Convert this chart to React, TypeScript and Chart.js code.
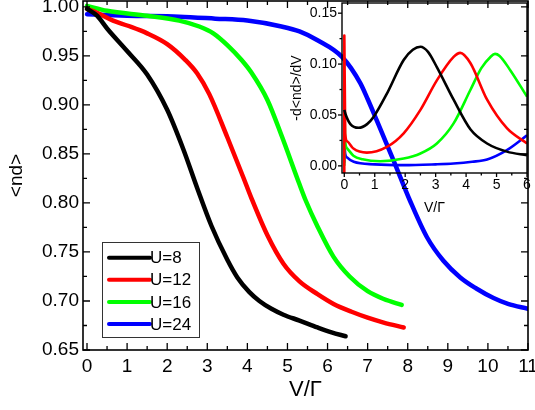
import { useEffect, useRef } from "react";
import { Chart, registerables } from "chart.js";

Chart.register(...registerables);

const FONT = '"Liberation Sans", Arial, Helvetica, sans-serif';

// ---------- main panel data: <nd> vs V/Γ ----------
const seriesLabels = ["U=8", "U=12", "U=16", "U=24"];
const seriesColors = ["#000000", "#ff0000", "#00ff00", "#0000ff"];

const vU8 = [0, 0.25, 0.5, 1.0, 1.5, 2.0, 2.4, 2.75, 3.1, 3.5, 3.75, 4.05, 4.3, 4.6, 4.9, 5.3, 5.75, 6.1, 6.45];
const ndU8 = [0.998, 0.991, 0.978, 0.955, 0.931, 0.895, 0.855, 0.815, 0.777, 0.742, 0.724, 0.709, 0.7, 0.692, 0.686, 0.68, 0.673, 0.668, 0.664];

const vU12 = [0, 0.25, 0.65, 1.0, 1.5, 2.0, 2.45, 2.75, 3.05, 3.5, 3.9, 4.1, 4.5, 4.9, 5.3, 5.75, 6.15, 6.6, 7.0, 7.4, 7.9];
const ndU12 = [0.998, 0.994, 0.986, 0.981, 0.973, 0.962, 0.946, 0.932, 0.911, 0.867, 0.826, 0.805, 0.767, 0.738, 0.72, 0.707, 0.697, 0.689, 0.683, 0.678, 0.673];

const vU16 = [0, 0.5, 1.5, 2.3, 2.8, 3.15, 3.5, 3.85, 4.1, 4.5, 4.85, 5.3, 5.45, 5.75, 6.15, 6.55, 7.0, 7.4, 7.85];
const ndU16 = [1.001, 0.996, 0.991, 0.986, 0.98, 0.973, 0.961, 0.946, 0.933, 0.905, 0.869, 0.819, 0.803, 0.776, 0.745, 0.725, 0.71, 0.702, 0.696];

const vU24 = [0, 1.0, 2.3, 3.2, 4.0, 4.85, 5.3, 5.75, 6.36, 6.82, 7.0, 7.23, 7.65, 8.06, 8.48, 8.89, 9.31, 9.7, 10.14, 10.5, 11.0];
const ndU24 = [0.9925, 0.991, 0.99, 0.988, 0.986, 0.98, 0.975, 0.966, 0.949, 0.922, 0.906, 0.884, 0.843, 0.802, 0.765, 0.741, 0.724, 0.713, 0.703, 0.697, 0.692];

// ---------- inset data: -d<nd>/dV vs V/Γ ----------
const iv8 = [0, 0.05, 0.2, 0.47, 0.75, 0.96, 1.4, 1.95, 2.25, 2.5, 2.75, 3.04, 3.59, 4.14, 4.69, 5.34, 6.0];
const id8 = [0.055, 0.05, 0.041, 0.0374, 0.041, 0.048, 0.071, 0.104, 0.114, 0.117, 0.112, 0.097, 0.065, 0.036, 0.022, 0.014, 0.0105];

const iv12 = [0, 0.001, 0.03, 0.1, 0.3, 0.74, 1.4, 1.95, 2.5, 3.04, 3.59, 3.81, 4.14, 4.69, 5.34, 6.0];
const id12 = [-0.01, 0.128, 0.032, 0.024, 0.017, 0.013, 0.0187, 0.032, 0.055, 0.084, 0.107, 0.111, 0.101, 0.065, 0.037, 0.022];

const iv16 = [0, 0.001, 0.03, 0.1, 0.3, 0.6, 1.18, 1.95, 2.5, 3.04, 3.59, 4.14, 4.5, 4.8, 4.95, 5.1, 5.45, 6.0];
const id16 = [0.0, 0.058, 0.024, 0.017, 0.01, 0.0065, 0.0046, 0.0072, 0.0122, 0.022, 0.0417, 0.0745, 0.096, 0.107, 0.11, 0.108, 0.094, 0.068];

const iv24 = [0, 0.001, 0.03, 0.1, 0.31, 1.0, 1.95, 3.0, 3.59, 4.2, 4.69, 5.34, 6.0];
const id24 = [0.003, 0.022, 0.012, 0.008, 0.004, 0.0015, 0.0007, 0.0015, 0.0023, 0.004, 0.0063, 0.0155, 0.03];

// ---------- tick labels ----------
const mainXTicks = [0, 1, 2, 3, 4, 5, 6, 7, 8, 9, 10, 11];
const mainYTicks = [0.65, 0.7, 0.75, 0.8, 0.85, 0.9, 0.95, 1.0];
const insetXTicks = [0, 1, 2, 3, 4, 5, 6];
const insetYTicks = [0.0, 0.05, 0.1, 0.15];

function pts(xs: number[], ys: number[]) {
  return xs.map((x, i) => ({ x, y: ys[i] }));
}
function midpoints(a: number[]) {
  const r: number[] = [];
  for (let i = 0; i < a.length - 1; i++) r.push((a[i] + a[i + 1]) / 2);
  return r;
}

function framePlugin(cfg: {
  inside: boolean;
  lw: number;
  major: number;
  minor: number;
  xMajor: number[];
  yMajor: number[];
  xMinor: number[];
  yMinor: number[];
}) {
  return {
    id: "frame",
    afterDatasetsDraw(chart: any) {
      const { ctx, chartArea: a, scales } = chart;
      const xs = scales.x;
      const ys = scales.y;
      ctx.save();
      ctx.strokeStyle = "#000";
      ctx.lineWidth = cfg.lw;
      ctx.lineCap = "butt";
      ctx.strokeRect(a.left, a.top, a.right - a.left, a.bottom - a.top);
      ctx.lineWidth = 1.3;
      const xt = (vals: number[], len: number) => {
        vals.forEach((v) => {
          const px = xs.getPixelForValue(v);
          if (px < a.left - 0.5 || px > a.right + 0.5) return;
          ctx.beginPath();
          if (cfg.inside) {
            ctx.moveTo(px, a.bottom);
            ctx.lineTo(px, a.bottom - len);
            ctx.moveTo(px, a.top);
            ctx.lineTo(px, a.top + len);
          } else {
            ctx.moveTo(px, a.bottom);
            ctx.lineTo(px, a.bottom + len);
          }
          ctx.stroke();
        });
      };
      const yt = (vals: number[], len: number) => {
        vals.forEach((v) => {
          const py = ys.getPixelForValue(v);
          if (py < a.top - 0.5 || py > a.bottom + 0.5) return;
          ctx.beginPath();
          if (cfg.inside) {
            ctx.moveTo(a.left, py);
            ctx.lineTo(a.left + len, py);
            ctx.moveTo(a.right, py);
            ctx.lineTo(a.right - len, py);
          } else {
            ctx.moveTo(a.left, py);
            ctx.lineTo(a.left - len, py);
          }
          ctx.stroke();
        });
      };
      xt(cfg.xMajor, cfg.major);
      xt(cfg.xMinor, cfg.minor);
      yt(cfg.yMajor, cfg.major);
      yt(cfg.yMinor, cfg.minor);
      ctx.restore();
    },
  };
}

const legendPlugin = {
  id: "boxLegend",
  afterDraw(chart: any) {
    const { ctx } = chart;
    const left = 102;
    const top = 242;
    const w = 97;
    const h = 95;
    ctx.save();
    ctx.fillStyle = "#ffffff";
    ctx.fillRect(left, top, w, h);
    ctx.strokeStyle = "#333";
    ctx.lineWidth = 1;
    ctx.strokeRect(left + 0.5, top + 0.5, w, h);
    chart.data.datasets.forEach((ds: any, i: number) => {
      const y = 257.7 + i * 22.1;
      ctx.strokeStyle = ds.borderColor;
      ctx.lineWidth = 4;
      ctx.lineCap = "round";
      ctx.beginPath();
      ctx.moveTo(109, y);
      ctx.lineTo(150, y);
      ctx.stroke();
      ctx.fillStyle = "#000";
      ctx.font = `17px ${FONT}`;
      ctx.textBaseline = "middle";
      ctx.textAlign = "left";
      ctx.fillText(ds.label, 150, y + 1);
    });
    ctx.restore();
  },
};

function fixedX(h: number) {
  return (s: any) => {
    s.height = h;
    s.paddingLeft = 0;
    s.paddingRight = 0;
    s.paddingTop = 0;
    s.paddingBottom = 0;
  };
}
function fixedY(w: number) {
  return (s: any) => {
    s.width = w;
    s.paddingLeft = 0;
    s.paddingRight = 0;
    s.paddingTop = 0;
    s.paddingBottom = 0;
  };
}

export default function App() {
  const mainRef = useRef<HTMLCanvasElement>(null);
  const insetRef = useRef<HTMLCanvasElement>(null);

  useEffect(() => {
    const mainSeries = [pts(vU8, ndU8), pts(vU12, ndU12), pts(vU16, ndU16), pts(vU24, ndU24)];
    const insetSeries = [pts(iv8, id8), pts(iv12, id12), pts(iv16, id16), pts(iv24, id24)];

    const main = new Chart(mainRef.current as HTMLCanvasElement, {
      type: "line",
      data: {
        datasets: mainSeries.map((d, i) => ({
          label: seriesLabels[i],
          data: d,
          borderColor: seriesColors[i],
          backgroundColor: seriesColors[i],
          borderWidth: 4.5,
          pointRadius: 0,
          fill: false,
          cubicInterpolationMode: "monotone" as const,
          borderCapStyle: "round" as const,
          borderJoinStyle: "round" as const,
        })),
      },
      options: {
        animation: false,
        responsive: false,
        events: [],
        layout: { padding: { left: 0, right: 7, top: 1, bottom: 0 } },
        plugins: { legend: { display: false }, tooltip: { enabled: false } },
        scales: {
          x: {
            type: "linear",
            min: -0.1,
            max: 11,
            afterBuildTicks: (s: any) => {
              s.ticks = mainXTicks.map((v) => ({ value: v }));
            },
            afterFit: fixedX(60),
            grid: { display: false, drawTicks: false },
            border: { display: false },
            ticks: {
              color: "#000",
              font: { family: FONT, size: 19 },
              padding: 5,
              autoSkip: false,
              maxRotation: 0,
              includeBounds: false,
              callback: (v: any) => String(v),
            },
            title: {
              display: true,
              text: "V/Γ",
              color: "#000",
              font: { family: FONT, size: 22 },
              padding: { top: 0, bottom: 7 },
            },
          },
          y: {
            type: "linear",
            min: 0.65,
            max: 1.006,
            afterBuildTicks: (s: any) => {
              s.ticks = mainYTicks.map((v) => ({ value: v }));
            },
            afterFit: fixedY(83),
            grid: { display: false, drawTicks: false },
            border: { display: false },
            ticks: {
              color: "#000",
              font: { family: FONT, size: 19 },
              padding: 4,
              autoSkip: false,
              includeBounds: false,
              callback: (v: any) => Number(v).toFixed(2),
            },
            title: {
              display: true,
              text: "<nd>",
              color: "#000",
              font: { family: FONT, size: 19 },
              padding: { top: 5, bottom: 0 },
            },
          },
        },
      },
      plugins: [
        framePlugin({
          inside: true,
          lw: 1.6,
          major: 7,
          minor: 4,
          xMajor: mainXTicks,
          yMajor: mainYTicks,
          xMinor: midpoints(mainXTicks),
          yMinor: midpoints(mainYTicks),
        }),
        legendPlugin,
      ],
    } as any);

    const inset = new Chart(insetRef.current as HTMLCanvasElement, {
      type: "line",
      data: {
        datasets: insetSeries.map((d, i) => ({
          label: seriesLabels[i],
          data: d,
          borderColor: seriesColors[i],
          backgroundColor: seriesColors[i],
          borderWidth: 2.6,
          pointRadius: 0,
          fill: false,
          cubicInterpolationMode: "monotone" as const,
          borderCapStyle: "butt" as const,
          borderJoinStyle: "round" as const,
        })),
      },
      options: {
        animation: false,
        responsive: false,
        events: [],
        layout: { padding: { left: 0, right: 8, top: 3, bottom: 0 } },
        plugins: { legend: { display: false }, tooltip: { enabled: false } },
        scales: {
          x: {
            type: "linear",
            min: -0.075,
            max: 6,
            afterBuildTicks: (s: any) => {
              s.ticks = insetXTicks.map((v) => ({ value: v }));
            },
            afterFit: fixedX(49),
            grid: { display: false, drawTicks: false },
            border: { display: false },
            ticks: {
              color: "#000",
              font: { family: FONT, size: 14 },
              padding: 4,
              autoSkip: false,
              maxRotation: 0,
              includeBounds: false,
              callback: (v: any) => String(v),
            },
            title: {
              display: true,
              text: "V/Γ",
              color: "#000",
              font: { family: FONT, size: 14 },
              padding: { top: 0, bottom: 5 },
            },
          },
          y: {
            type: "linear",
            min: -0.007,
            max: 0.16,
            afterBuildTicks: (s: any) => {
              s.ticks = insetYTicks.map((v) => ({ value: v }));
            },
            afterFit: fixedY(57),
            grid: { display: false, drawTicks: false },
            border: { display: false },
            ticks: {
              color: "#000",
              font: { family: FONT, size: 14 },
              padding: 5,
              autoSkip: false,
              includeBounds: false,
              callback: (v: any) => Number(v).toFixed(2),
            },
            title: {
              display: true,
              text: "-d<nd>/dV",
              color: "#000",
              font: { family: FONT, size: 14 },
              padding: { top: 4, bottom: 0 },
            },
          },
        },
      },
      plugins: [
        framePlugin({
          inside: false,
          lw: 1.4,
          major: 4,
          minor: 2.5,
          xMajor: insetXTicks,
          yMajor: insetYTicks,
          xMinor: midpoints(insetXTicks),
          yMinor: midpoints(insetYTicks),
        }),
      ],
    } as any);

    return () => {
      main.destroy();
      inset.destroy();
    };
  }, []);

  return (
    <div
      style={{
        position: "fixed",
        left: 0,
        top: 0,
        width: 535,
        height: 410,
        background: "#ffffff",
        overflow: "hidden",
      }}
    >
      <canvas
        ref={mainRef}
        width={535}
        height={410}
        style={{ position: "absolute", left: 0, top: 0, width: 535, height: 410 }}
      />
      <canvas
        ref={insetRef}
        width={250}
        height={222}
        style={{ position: "absolute", left: 285, top: 0, width: 250, height: 222 }}
      />
    </div>
  );
}
